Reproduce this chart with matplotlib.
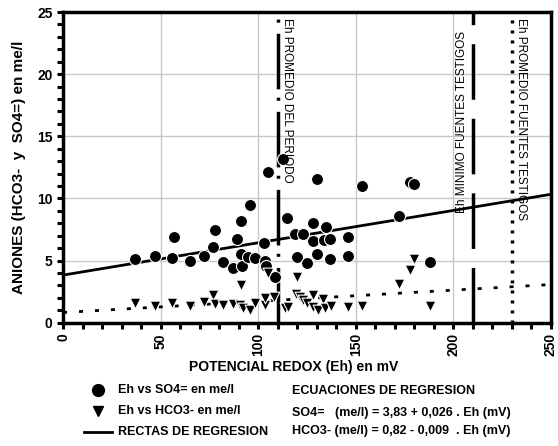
import matplotlib
matplotlib.use('Agg')
import matplotlib.pyplot as plt
from matplotlib.ticker import MultipleLocator
from matplotlib.lines import Line2D

plt.rcParams['font.family'] = ['Liberation Sans', 'DejaVu Sans']
plt.rcParams['font.weight'] = 'bold'
plt.rcParams['lines.scale_dashes'] = False

# Eh (mV) vs SO4= (me/l)
eh_so4 = [37, 47, 56, 57, 65, 72, 77, 78, 82, 87, 89, 91, 91, 91.5, 95, 96, 98.4,
          103, 103.5, 104, 105, 108.6, 113, 115, 119, 120, 123, 125, 128, 128,
          130, 130, 134, 135, 137, 137, 146, 146, 153, 172, 178, 180, 188]
so4 = [5.1, 5.4, 5.2, 6.9, 5.0, 5.4, 6.1, 7.45, 4.9, 4.4, 6.75, 8.2, 5.5, 4.56, 5.26, 9.5, 5.17,
       6.4, 5.0, 4.56, 12.1, 3.65, 13.2, 8.44, 7.13, 5.3, 7.13, 4.77, 8.0, 6.6,
       11.6, 5.5, 6.65, 7.7, 6.7, 5.1, 6.86, 5.36, 11.0, 8.6, 11.33, 11.2, 4.9]

# Eh (mV) vs HCO3- (me/l)
eh_hco3 = [37, 47, 56, 65, 72, 77, 78, 82, 87, 90.7, 91, 92, 96, 98.4, 103.5, 103.5,
           105, 108, 113.7, 115.4, 119.4, 120, 121.4, 123, 125, 128, 128.2, 130.8,
           133, 134.2, 137.1, 146.2, 153, 172, 177.8, 179.8, 188]
hco3 = [1.56, 1.37, 1.56, 1.37, 1.64, 2.23, 1.5, 1.42, 1.5, 1.45, 3.03, 1.15, 1.02, 1.56, 1.42, 1.96,
        3.97, 2.09, 1.16, 1.29, 2.31, 3.7, 2.09, 1.82, 1.56, 2.23, 1.29, 1.02,
        1.9, 1.16, 1.34, 1.29, 1.37, 3.11, 4.24, 5.09, 1.37]

# regression lines (as drawn)
so4_a, so4_b = 3.83, 0.026
hco3_a, hco3_b = 0.82, 0.009
eh_range = [0, 250]

# reference Eh values
eh_prom_periodo = 110
eh_min_testigos = 210
eh_prom_testigos = 230

fig = plt.figure(figsize=(5.58, 4.46), dpi=100)
ax = fig.add_axes([0.113, 0.2765, 0.874, 0.6965])

ax.grid(True, color='#c8c8c8', linewidth=1)
ax.set_axisbelow(True)

ax.plot(eh_range, [so4_a + so4_b * x for x in eh_range], color='black', lw=2, zorder=2)
ax.plot(eh_range, [hco3_a + hco3_b * x for x in eh_range], color='black', lw=2,
        linestyle=(0, (2.9, 8.6)), zorder=2)

ax.scatter(eh_so4, so4, s=75, marker='o', color='black', edgecolors='white',
           linewidths=0.8, zorder=3)
ax.scatter(eh_hco3, hco3, s=60, marker='v', color='black', edgecolors='white',
           linewidths=0.8, zorder=3)

ax.axvline(eh_prom_periodo, color='black', lw=2.5, linestyle=(0, (40, 8, 2.2, 6)), zorder=2)
ax.axvline(eh_min_testigos, color='black', lw=2.5, linestyle=(0, (40, 13.7)), zorder=2)
ax.axvline(eh_prom_testigos, color='black', lw=2.5, linestyle=(0, (2.2, 5)), zorder=2)

ax.text(eh_prom_periodo + 1.5, 24.5, 'Eh PROMEDIO DEL PERIODO', rotation=270,
        ha='left', va='top', fontsize=8.5, fontweight='medium')
ax.text(eh_min_testigos - 2.5, 8.8, 'Eh MINIMO FUENTES TESTIGOS', rotation=90,
        ha='right', va='bottom', fontsize=8.5, fontweight='medium')
ax.text(eh_prom_testigos + 1.5, 24.5, 'Eh PROMEDIO FUENTES TESTIGOS', rotation=270,
        ha='left', va='top', fontsize=8.5, fontweight='medium')

ax.set_xlim(0, 250)
ax.set_ylim(0, 25)
ax.xaxis.set_major_locator(MultipleLocator(50))
ax.xaxis.set_minor_locator(MultipleLocator(10))
ax.yaxis.set_major_locator(MultipleLocator(5))
ax.yaxis.set_minor_locator(MultipleLocator(1))
ax.tick_params(which='both', direction='out', length=4, width=2.2, labelsize=10)
ax.tick_params(axis='x', rotation=90)
for s in ax.spines.values():
    s.set_linewidth(2.5)

ax.set_ylabel('ANIONES (HCO3-  y  SO4=) en me/l', fontsize=11, fontweight='bold', labelpad=8)
fig.text(294 / 558, 1 - 367 / 446, 'POTENCIAL REDOX (Eh) en mV', fontsize=10,
         fontweight='bold', ha='center', va='center')

# legend block below the chart
fig.add_artist(Line2D([98 / 558], [1 - 390 / 446], marker='o', color='black',
                      markersize=8.5, linestyle='none'))
fig.add_artist(Line2D([98 / 558], [1 - 411 / 446], marker='v', color='black',
                      markersize=7, linestyle='none'))
fig.add_artist(Line2D([84 / 558, 112 / 558], [1 - 432 / 446] * 2, color='black', lw=2))
leg_left = ['Eh vs SO4= en me/l', 'Eh vs HCO3- en me/l', 'RECTAS DE REGRESION']
for txt, yy in zip(leg_left, [390, 411, 432]):
    fig.text(118 / 558, 1 - yy / 446, txt, fontsize=9, va='center')
leg_right = ['ECUACIONES DE REGRESION',
             'SO4=   (me/l) = 3,83 + 0,026 . Eh (mV)',
             'HCO3- (me/l) = 0,82 - 0,009  . Eh (mV)']
for txt, yy in zip(leg_right, [391, 413, 431]):
    fig.text(292 / 558, 1 - yy / 446, txt, fontsize=9, va='center')

fig.savefig('out.png', dpi=100)
